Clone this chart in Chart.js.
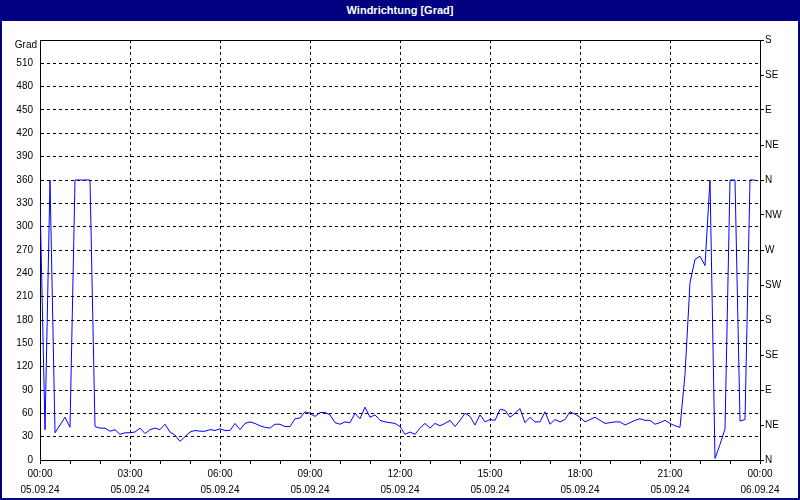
<!DOCTYPE html>
<html>
<head>
<meta charset="utf-8">
<script src="https://cdn.jsdelivr.net/npm/chart.js@4/dist/chart.umd.min.js"></script>
<style>
html,body{margin:0;padding:0;background:#fff;}
#wrap{position:relative;width:800px;height:500px;overflow:hidden;background:#fff;}
#title{position:absolute;left:0;top:0;width:800px;height:21px;background:#000080;color:#fff;
 font:bold 11px "Liberation Sans",Arial,sans-serif;text-align:center;line-height:21px;z-index:2;}
#frame{position:absolute;left:0;top:0;width:800px;height:500px;box-sizing:border-box;border:2px solid #000080;z-index:3;pointer-events:none;}
canvas{position:absolute;left:0;top:0;}
</style>
</head>
<body>
<div id="wrap">
<div id="title">Windrichtung [Grad]</div>
<div id="frame"></div>
<canvas id="c" width="800" height="500"></canvas>
</div>
<script>
// Minutes since 05.09.24 00:00 (10-minute readings)
const minutes = [];
for (let i = 0; i < 144; i++) minutes.push(i * 10);

// Wind direction values in degrees
const direction = [
 335,39,360,35,45,55,42,360,360,360,
 360,43,41,41,37,39,33,35,35,36,
 41,34,39,41,39,46,36,32,24,30,
 36,38,37,37,39,38,40,38,38,47,
 39,47,49,47,44,42,41,46,46,43,
 43,53,54,62,60,56,61,61,58,48,
 46,49,48,60,53,68,55,58,51,49,
 48,47,43,33,36,33,41,47,41,47,
 44,47,51,43,51,60,56,45,58,49,
 52,51,65,64,55,60,66,48,55,49,
 49,62,46,52,49,52,62,59,55,49,
 52,55,51,47,48,49,49,45,48,51,
 53,51,51,46,48,51,47,44,42,110,
 228,258,262,250,360,2,20,40,360,360,
 50,52,360,360
];

// Tick labels
const timeLabels = ['00:00','03:00','06:00','09:00','12:00','15:00','18:00','21:00','00:00'];
const dateLabels = ['05.09.24','05.09.24','05.09.24','05.09.24','05.09.24','05.09.24','05.09.24','05.09.24','06.09.24'];
const compassLabels = ['N','NE','E','SE','S','SW','W','NW','N','NE','E','SE','S'];
const unitLabel = 'Grad';

const points = minutes.map((m, i) => ({x: m, y: direction[i]}));
const font = {family: '"Liberation Sans", Arial, sans-serif', size: 10};

const framePlugin = {
  id: 'frame',
  afterDraw(chart) {
    const a = chart.chartArea, ctx = chart.ctx;
    ctx.save();
    ctx.strokeStyle = '#000';
    ctx.lineWidth = 1;
    ctx.beginPath();
    ctx.moveTo(Math.round(a.left) + 0.5, Math.round(a.top) + 0.5);
    ctx.lineTo(Math.round(a.right) + 0.5, Math.round(a.top) + 0.5);
    ctx.stroke();
    // unit label at top of left axis
    ctx.fillStyle = '#000';
    ctx.font = '10px "Liberation Sans", Arial, sans-serif';
    ctx.textAlign = 'right';
    ctx.textBaseline = 'middle';
    ctx.fillText(unitLabel, a.left - 3, a.top + 5);
    ctx.restore();
  }
};

new Chart(document.getElementById('c'), {
  type: 'line',
  data: {
    datasets: [{
      data: points,
      borderColor: '#0000ff',
      borderWidth: 1,
      pointRadius: 0,
      tension: 0,
      fill: false
    }]
  },
  options: {
    responsive: false,
    devicePixelRatio: 1,
    animation: false,
    layout: {padding: {top: 40, left: 0, right: 0, bottom: 0}},
    plugins: {legend: {display: false}, tooltip: {enabled: false}, title: {display: false}},
    scales: {
      x: {
        type: 'linear',
        min: 0, max: 1440,
        afterFit(s) { s.height = 40; },
        ticks: {
          stepSize: 60,
          autoSkip: false,
          maxRotation: 0,
          padding: 2,
          color: '#000',
          font: Object.assign({lineHeight: 1.6}, font),
          callback(v) {
            if (v % 180 !== 0) return '';
            const k = v / 180;
            return [timeLabels[k], dateLabels[k]];
          }
        },
        grid: {
          color: c => (c.tick && c.tick.value % 180 === 0 && c.tick.value > 0 && c.tick.value < 1440) ? '#000' : 'rgba(0,0,0,0)',
          tickColor: '#000',
          tickLength: 4,
          tickBorderDash: [],
          lineWidth: 1,
          drawTicks: true
        },
        border: {display: true, color: '#000', width: 1, dash: [3, 3]}
      },
      y: {
        position: 'left',
        min: 0, max: 540,
        afterFit(s) { s.width = 40; },
        ticks: {
          stepSize: 30,
          padding: 7,
          color: '#000',
          font: font,
          callback(v) { return v === 540 ? '' : String(v); }
        },
        grid: {
          color: c => (c.tick && c.tick.value > 0 && c.tick.value < 540) ? '#000' : 'rgba(0,0,0,0)',
          drawTicks: false,
          lineWidth: 1
        },
        border: {display: true, color: '#000', width: 1, dash: [3, 3]}
      },
      y2: {
        position: 'right',
        min: 0, max: 540,
        afterFit(s) { s.width = 40; },
        ticks: {
          stepSize: 45,
          padding: 1,
          color: '#000',
          font: font,
          callback(v) { return compassLabels[Math.round(v / 45)]; }
        },
        grid: {
          drawOnChartArea: false,
          drawTicks: true,
          tickLength: 4,
          tickColor: '#000',
          tickBorderDash: []
        },
        border: {display: true, color: '#000', width: 1}
      }
    }
  },
  plugins: [framePlugin]
});
</script>
</body>
</html>
